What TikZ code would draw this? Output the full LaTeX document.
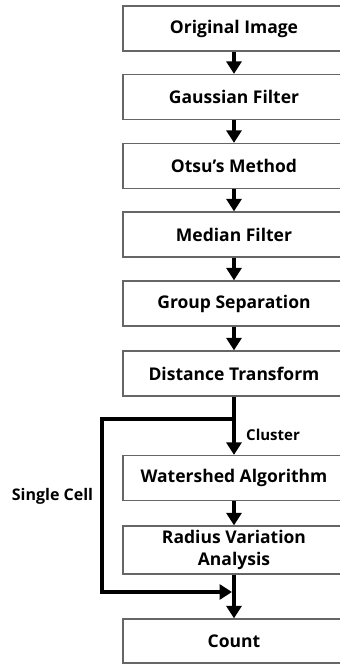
\documentclass[tikz,border=0pt]{standalone}
\usepackage{fontspec}
\setmainfont{Open Sans}
\usetikzlibrary{arrows.meta}
\begin{document}
\begin{tikzpicture}[x=1pt,y=-1pt,
  stepbox/.style={draw=black!60, line width=1.3pt, fill=white, minimum width=222pt, minimum height=45pt, inner sep=0pt, align=center, font=\fontsize{17.5}{21.5}\selectfont\bfseries},
  flow/.style={line width=4.5pt, -{Triangle[width=15pt,length=12.5pt]}},
  lbl/.style={font=\fontsize{15}{17}\selectfont\bfseries, inner sep=0pt}]
\useasboundingbox (0,0) rectangle (340,664);
\begin{scope}
\clip (0,0) rectangle (340,664);
\node[stepbox] (orig) at (234,28.5) {Original Image};
\node[stepbox] (gauss) at (234,97) {Gaussian Filter};
\node[stepbox] (otsu) at (234,166) {Otsu’s Method};
\node[stepbox] (median) at (234,234.5) {Median Filter};
\node[stepbox] (group) at (234,303.5) {Group Separation};
\node[stepbox] (dist) at (234,373.5) {Distance Transform};
\node[stepbox] (water) at (234,478) {Watershed Algorithm};
\node[stepbox, minimum height=48pt] (radius) at (234,550) {Radius Variation\\Analysis};
\node[stepbox, minimum height=44pt] (count) at (234,641) {Count};
\end{scope}
\draw[flow] (orig) -- (gauss);
\draw[flow] (gauss) -- (otsu);
\draw[flow] (otsu) -- (median);
\draw[flow] (median) -- (group);
\draw[flow] (group) -- (dist);
\draw[flow] (dist) -- (water);
\draw[flow] (water) -- (radius);
\draw[flow] (radius) -- (count);
\coordinate (split) at (234,419);
\coordinate (merge) at (232,592);
\draw[flow] (split) -| (102,592) -- (merge);
\node[lbl, anchor=west] (cluster) at (246,435) {Cluster};
\node[lbl, font=\fontsize{16}{18}\selectfont\bfseries] (single) at (52.5,496) {Single Cell};
\end{tikzpicture}
\end{document}
